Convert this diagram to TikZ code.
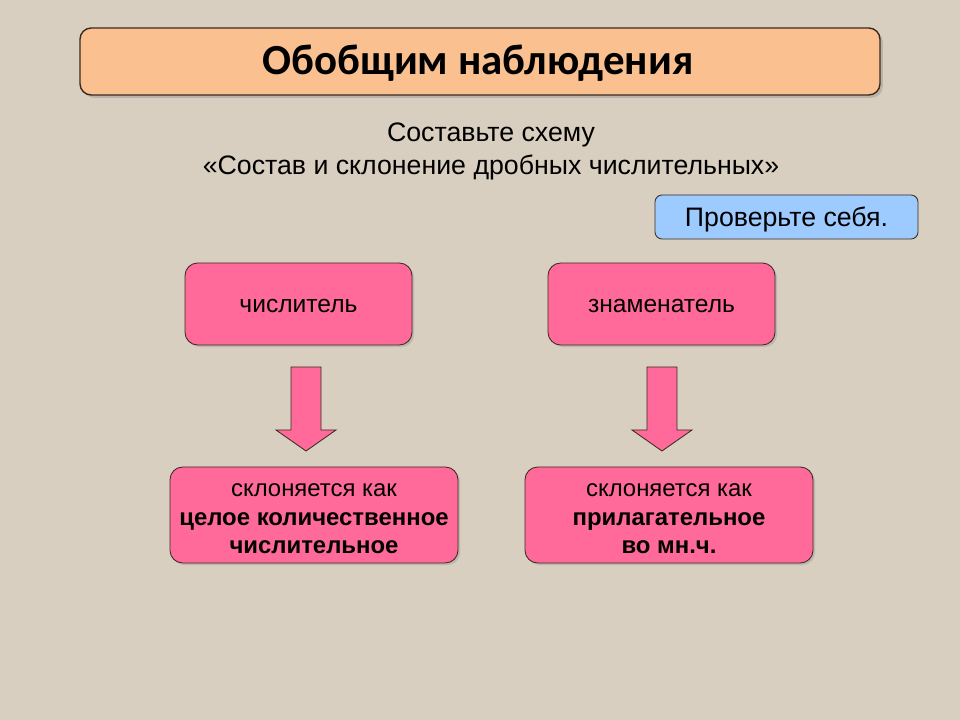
\documentclass[tikz,border=0pt]{standalone}
\usepackage{fontspec}
\setmainfont{Liberation Sans}
\newfontfamily\titlefont{Carlito}
\usetikzlibrary{shadows}
\definecolor{bgc}{HTML}{D8CFC0}
\definecolor{peach}{HTML}{FAC090}
\definecolor{pinkc}{HTML}{FF6A9A}
\definecolor{bluec}{HTML}{9DCBFF}
\definecolor{edgec}{HTML}{3A2A20}
\tikzset{
  px/.style={x=0.025cm,y=-0.025cm},
  titlebox/.style={draw=edgec,line width=1pt,fill=peach,rounded corners=8pt,
    drop shadow={shadow xshift=2pt,shadow yshift=-2pt,opacity=0.35}},
  pinkbox/.style={draw=edgec,line width=0.6pt,fill=pinkc,rounded corners=9pt,
    drop shadow={shadow xshift=1.5pt,shadow yshift=-1.5pt,opacity=0.3}},
  bluebox/.style={draw=edgec,line width=0.6pt,fill=bluec,rounded corners=5pt},
  boxtext/.style={align=center,font=\fontsize{17}{20.2}\selectfont},
  bigarrow/.style={draw=edgec,line width=0.6pt,fill=pinkc}
}
\begin{document}
\begin{tikzpicture}[px]
\fill[bgc] (0,0) rectangle (960,720);
\useasboundingbox (0,0) rectangle (960,720);
% title
\draw[titlebox] (80,28) rectangle (880,95);
\node (title) at (478,63) {\titlefont\bfseries\fontsize{30.5}{34}\selectfont Обобщим наблюдения};
% subtitle
\node[align=center,font=\fontsize{19}{23.5}\selectfont] (sub) at (491,151)
  {Составьте схему\\«Состав и склонение дробных числительных»};
% check box
\draw[bluebox] (655,195) rectangle (918,239);
\node[font=\fontsize{19}{22}\selectfont] (check) at (786.5,219.5) {Проверьте себя.};
% top boxes
\draw[pinkbox] (185,263) rectangle (412,345);
\node[boxtext,font=\fontsize{17.5}{20}\selectfont] (num) at (298.5,306) {числитель};
\draw[pinkbox] (548,263) rectangle (775,345);
\node[boxtext,font=\fontsize{17.5}{20}\selectfont] (den) at (661.5,306) {знаменатель};
% arrows
\draw[bigarrow] (291,367) -- (321,367) -- (321,430) -- (336,430) -- (306,451) -- (276,430) -- (291,430) -- cycle;
\draw[bigarrow] (647,367) -- (677,367) -- (677,430) -- (692,430) -- (662,451) -- (632,430) -- (647,430) -- cycle;
% bottom boxes
\draw[pinkbox] (170,467) rectangle (458,563);
\node[boxtext] (numd) at (314,519)
  {склоняется как\\\textbf{целое количественное}\\\textbf{числительное}};
\draw[pinkbox] (525,467) rectangle (813,563);
\node[boxtext] (dend) at (669,519)
  {склоняется как\\\textbf{прилагательное}\\\textbf{во мн.ч.}};
\end{tikzpicture}
\end{document}
